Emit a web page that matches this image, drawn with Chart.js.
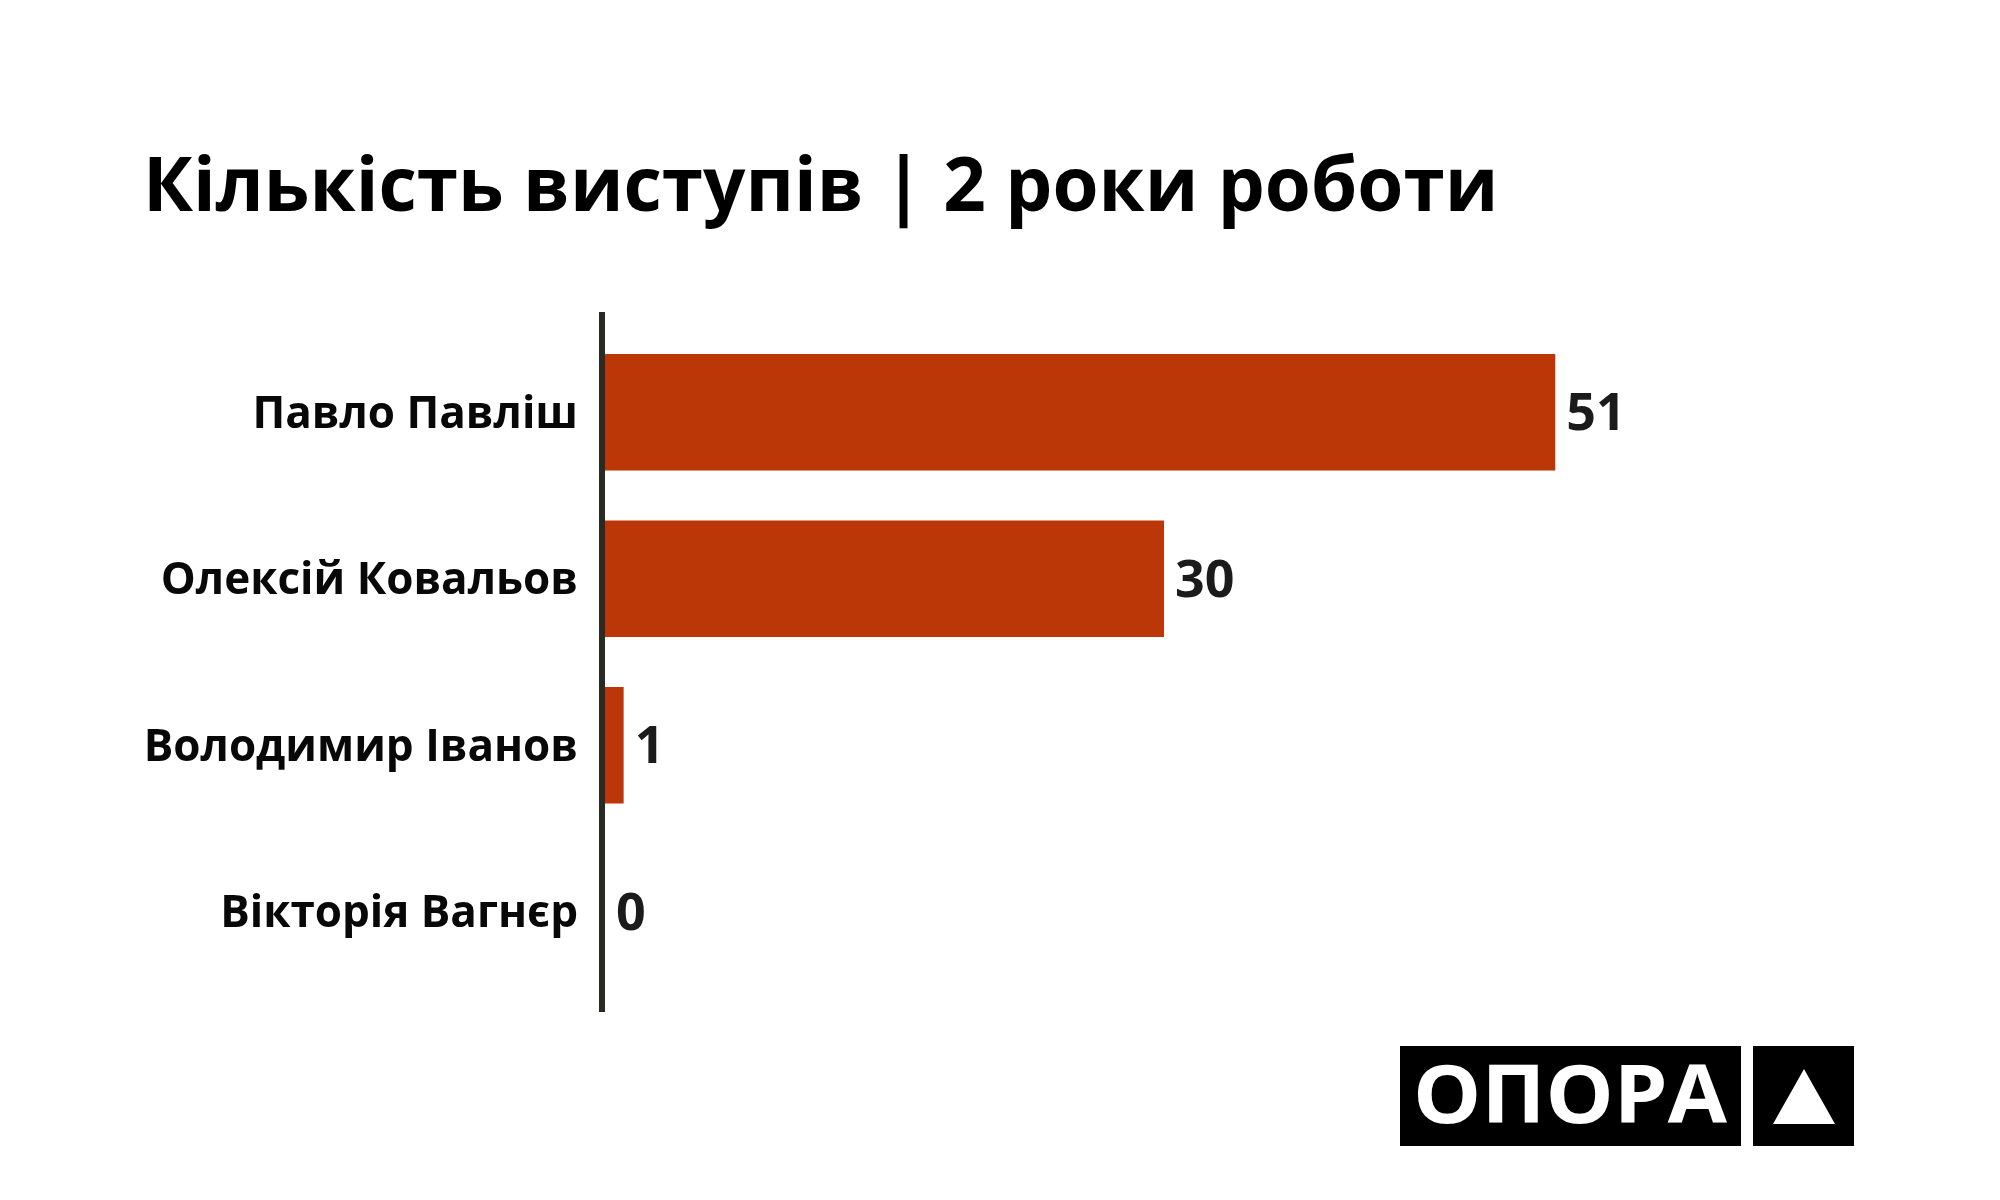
<!DOCTYPE html>
<html lang="uk">
<head>
<meta charset="utf-8">
<title>Кількість виступів | 2 роки роботи</title>
<script src="https://cdn.jsdelivr.net/npm/chart.js@4.4.1/dist/chart.umd.min.js"></script>
<style>
  html, body { margin: 0; padding: 0; background: #fff; }
  #wrap { width: 2000px; height: 1200px; }
</style>
</head>
<body>
<div id="wrap"><canvas id="grafik" width="2000" height="1200"></canvas></div>
<script>
// Дані
const deputaty = ['Павло Павліш', 'Олексій Ковальов', 'Володимир Іванов', 'Вікторія Вагнєр'];
const vystupy = [51, 30, 1, 0];
const nazva = 'Кількість виступів | 2 роки роботи';
const logoText = 'ОПОРА';

const FONT = "'Open Sans', 'Noto Sans', sans-serif";
const barColor = '#bc3708';

// Вертикальна лінія осі (трохи виходить за область графіка)
const axisLine = {
    id: 'axisLine',
    afterDatasetsDraw(chart) {
        const { ctx, chartArea, scales } = chart;
        const x = scales.x.getPixelForValue(0) - 3;
        ctx.save();
        ctx.strokeStyle = '#2a2a24';
        ctx.lineWidth = 6;
        ctx.beginPath();
        ctx.moveTo(x, chartArea.top - 17);
        ctx.lineTo(x, chartArea.bottom + 17);
        ctx.stroke();
        ctx.restore();
    }
};

// Підписи значень праворуч від стовпчиків
const valueLabels = {
    id: 'valueLabels',
    afterDatasetsDraw(chart) {
        const { ctx } = chart;
        const meta = chart.getDatasetMeta(0);
        ctx.save();
        ctx.font = 'bold 52px ' + FONT;
        ctx.fillStyle = '#1b1b1b';
        ctx.textAlign = 'left';
        ctx.textBaseline = 'middle';
        meta.data.forEach((bar, i) => {
            ctx.fillText(String(vystupy[i]), bar.x + 11, bar.y + 3);
        });
        ctx.restore();
    }
};

// Логотип у правому нижньому куті
const logo = {
    id: 'logo',
    afterDraw(chart) {
        const { ctx } = chart;
        ctx.save();
        ctx.fillStyle = '#000';
        ctx.fillRect(1400, 1046, 341, 100);
        ctx.fillRect(1753, 1046, 101, 100);
        ctx.fillStyle = '#fff';
        ctx.beginPath();
        ctx.moveTo(1804, 1069);
        ctx.lineTo(1835, 1124);
        ctx.lineTo(1773, 1124);
        ctx.closePath();
        ctx.fill();
        ctx.font = 'bold 81px ' + FONT;
        ctx.textAlign = 'center';
        ctx.textBaseline = 'alphabetic';
        ctx.translate(1570, 1123);
        ctx.scale(1.06, 1);
        ctx.fillText(logoText, 0, 0);
        ctx.restore();
    }
};

new Chart(document.getElementById('grafik'), {
    type: 'bar',
    data: {
        labels: deputaty,
        datasets: [{
            data: vystupy,
            backgroundColor: barColor,
            borderWidth: 0,
            barPercentage: 0.7,
            categoryPercentage: 1.0
        }]
    },
    options: {
        indexAxis: 'y',
        responsive: false,
        devicePixelRatio: 1,
        animation: false,
        layout: {
            padding: { left: 143, top: 145, right: 277, bottom: 205 }
        },
        scales: {
            x: {
                display: false,
                min: 0,
                max: 60
            },
            y: {
                grid: { display: false },
                border: { display: false },
                ticks: {
                    color: '#080808',
                    padding: 19,
                    labelOffset: 3,
                    font: { family: FONT, size: 44, weight: 'bold' }
                },
                afterFit(scale) { scale.width = 462; }
            }
        },
        plugins: {
            legend: { display: false },
            tooltip: { enabled: false },
            title: {
                display: true,
                text: nazva,
                align: 'start',
                color: '#000',
                font: { family: FONT, size: 74.5, weight: 'bold', lineHeight: 1.2 },
                padding: { top: 0, bottom: 94.6 }
            }
        }
    },
    plugins: [axisLine, valueLabels, logo]
});
</script>
</body>
</html>
